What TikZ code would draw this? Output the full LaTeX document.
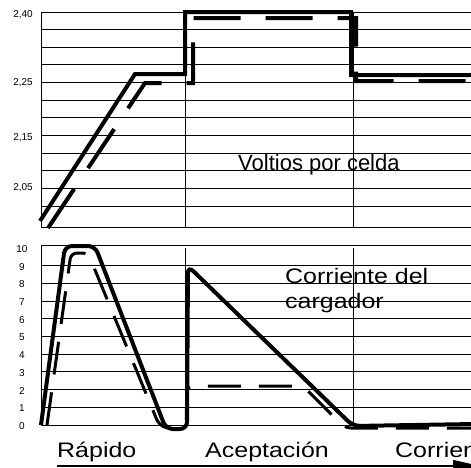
\documentclass[tikz,border=0pt]{standalone}
\usepackage{fontspec}
\setmainfont{Liberation Sans}
\newfontfamily\anchafont[FakeStretch=1.19]{Liberation Sans}
\usetikzlibrary{arrows.meta}
\begin{document}
\begin{tikzpicture}[
        x=1pt, y=-1pt,
        rejilla/.style={line width=0.9pt},
        marca/.style={font=\fontsize{10}{12}\selectfont, inner sep=0pt},
        rotulo/.style={font=\anchafont\fontsize{21}{25}\selectfont, inner sep=0pt, align=left},
        real/.style={line width=4pt, rounded corners=7pt},
        esperada/.style={line width=4pt, dash pattern=on 47pt off 25pt},
        esperadaI/.style={line width=3pt, dash pattern=on 33pt off 18pt, rounded corners=6pt},
        fase/.style={line width=1.3pt, -{Triangle[length=27pt, width=12pt]}}
    ]
        \useasboundingbox (0,0) rectangle (471,467);

        % Rejilla de tensión
        \foreach \i in {0,...,11}
            \draw[rejilla] (41,{12+17.64*\i}) -- (471,{12+17.64*\i});
        \draw[rejilla] (41,227) -- (471,227);
        \draw[rejilla] (41,12) -- (41,227);
        \draw[rejilla] (185,12) -- (185,227);
        \draw[rejilla] (353,12) -- (353,227);

        \node[marca] (v240) at (23,15) {2,40};
        \node[marca] (v225) at (23,83) {2,25};
        \node[marca] (v215) at (23,138) {2,15};
        \node[marca] (v205) at (23,188) {2,05};

        % Curvas de tensión
        \draw[real, rounded corners=0pt] (40,221) -- (135,74) -- (185,74) -- (185,12) -- (351,12) -- (351,75) -- (475,75);
        \draw[esperada] (48,228) -- (145,83) -- (193,83) -- (193,18) -- (356,18) -- (356,81) -- (475,81);

        \node[rotulo, anchor=base west, font=\fontsize{22}{25}\selectfont] (voltios) at (238,170) {Voltios por celda};

        % Rejilla de corriente
        \foreach \k in {0,...,9}
            \draw[rejilla] (41,{425-17.7*\k}) -- (471,{425-17.7*\k});
        \draw[rejilla] (41,245) -- (471,245);
        \draw[rejilla] (41,245) -- (41,425);
        \draw[rejilla] (185,248) -- (185,425);
        \draw[rejilla] (353,248) -- (353,425);

        \foreach \k in {0,...,10}
            \node[marca] (i\k) at (22,{426-17.7*\k}) {\k};

        % Curvas de corriente
        \draw[real] (41,425) -- (65,246) -- (95,246) -- (166,429) -- (187,429) -- (188,266) -- (353,426) -- (475,424);
        \draw[esperadaI] (47,425) -- (71,253) -- (88,253) -- (159,425) -- (170,429) -- (186,429) -- (187,386) -- (303,386) -- (345,428) -- (475,428);

        \node[rotulo, anchor=base west] (corriente) at (285,308) {Corriente del\\cargador};

        % Fases de carga
        \node[rotulo, anchor=base west] (rapido) at (57,457) {Rápido};
        \node[rotulo, anchor=base west] (aceptacion) at (205,457) {Aceptación};
        \node[rotulo, anchor=base west] (flotacion) at (395,457) {Corriente};

        \coordinate (fase inicio) at (57,466);
        \coordinate (fase fin) at (480,466);
        \draw[fase] (fase inicio) -- (fase fin);
    \end{tikzpicture}
\end{document}
